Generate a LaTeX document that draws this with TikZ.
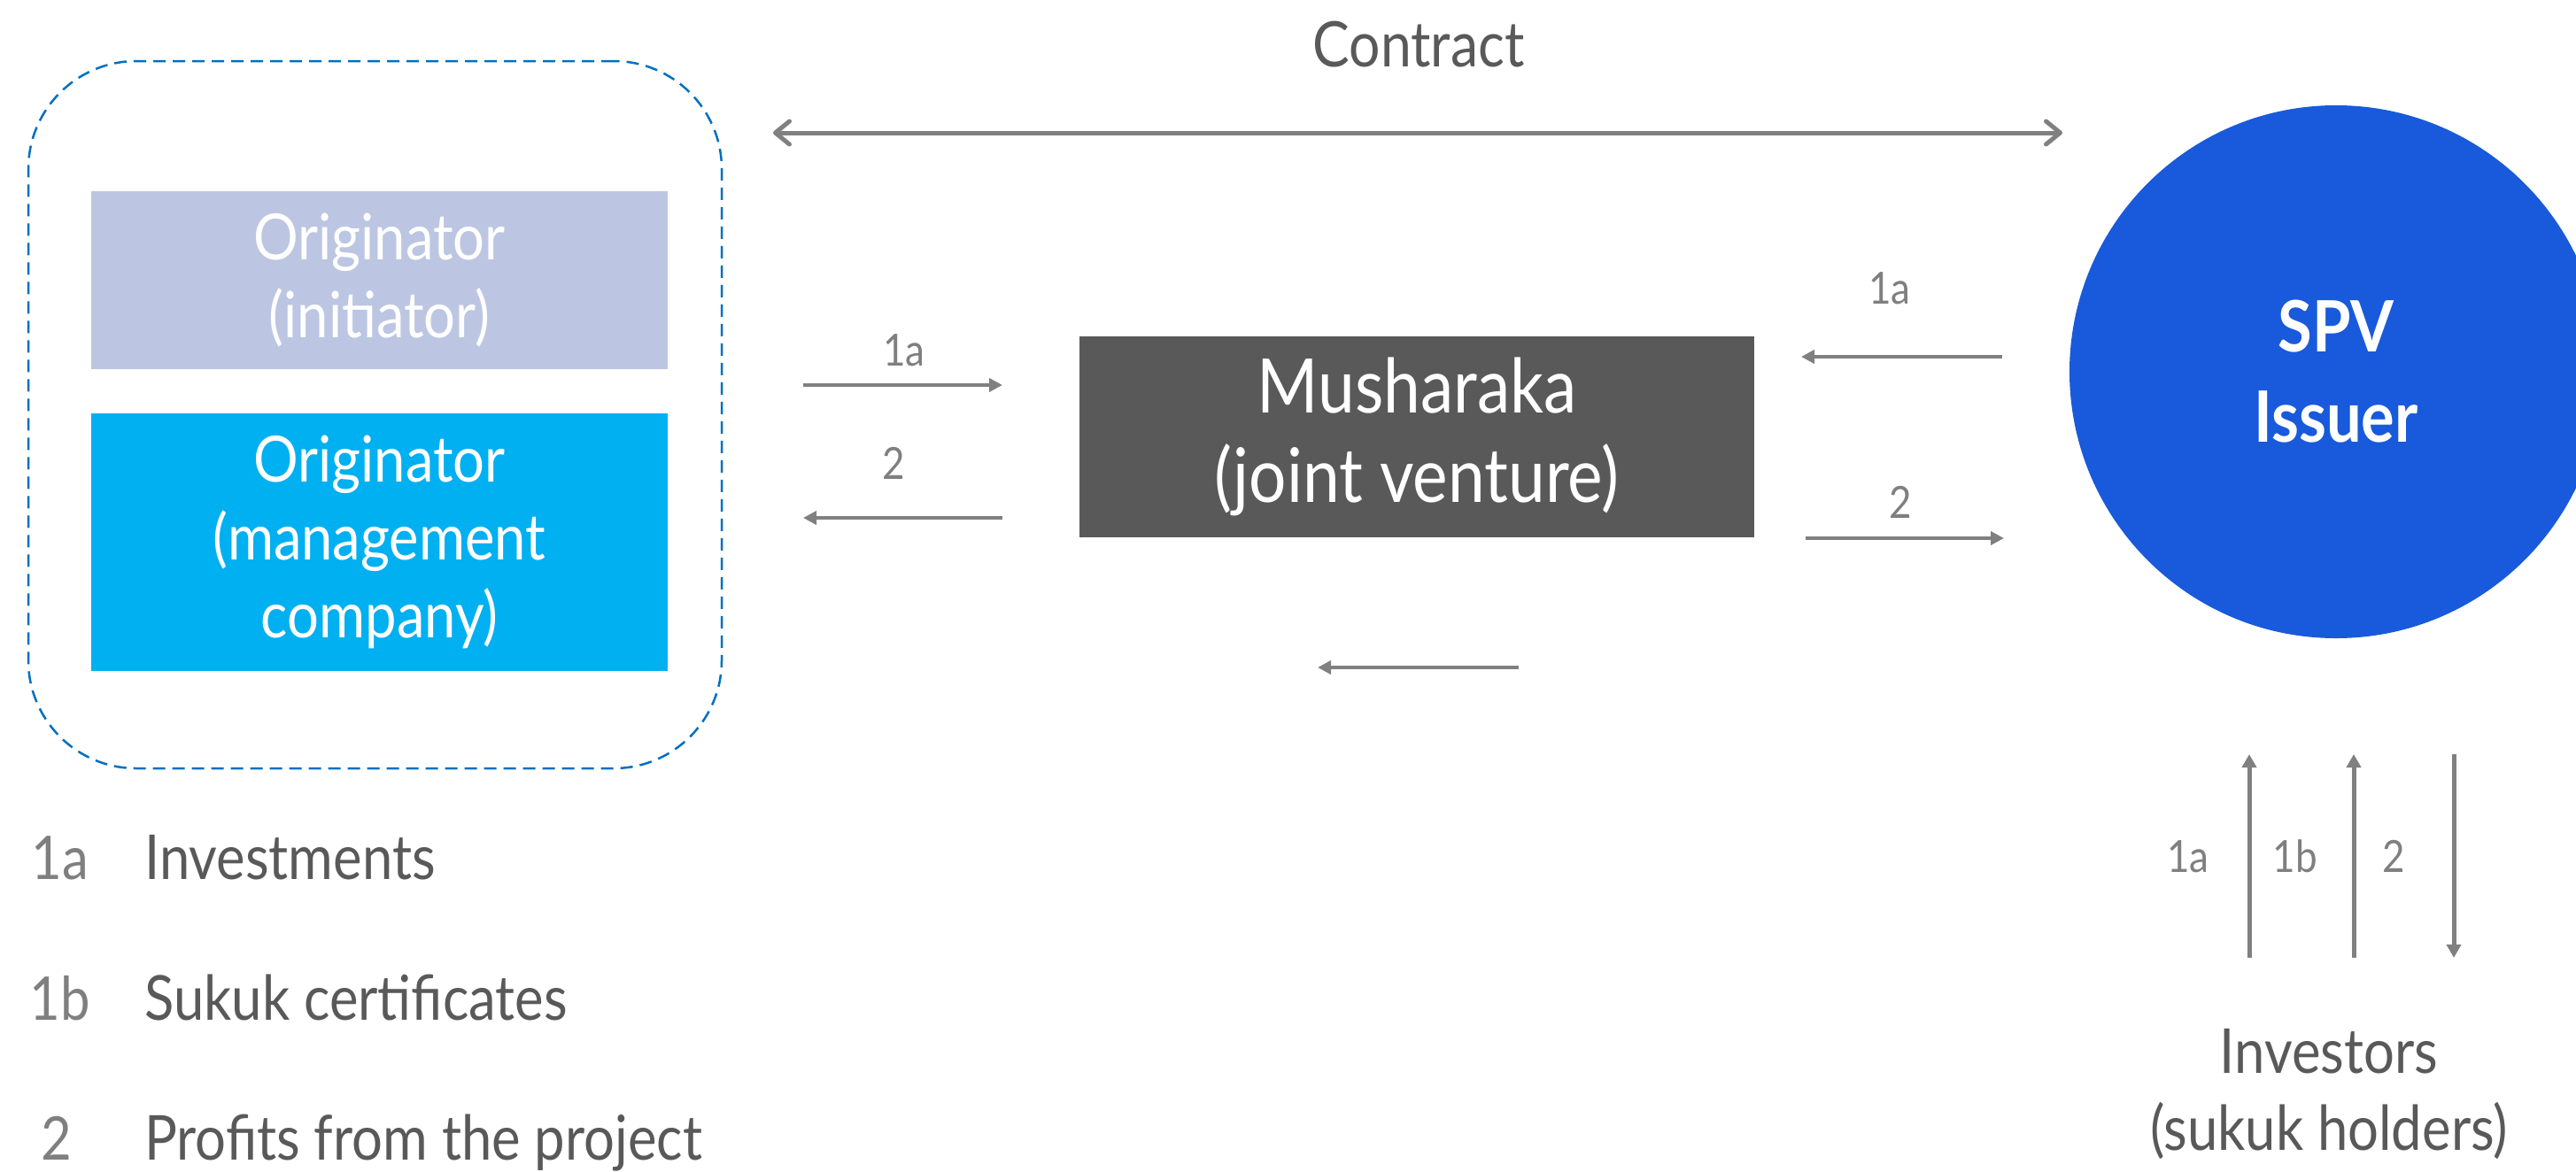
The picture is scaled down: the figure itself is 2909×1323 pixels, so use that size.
\documentclass[tikz,border=0pt]{standalone}
\usepackage{fontspec}
\setmainfont{Lato}[FakeStretch=0.88]
\usetikzlibrary{arrows.meta}

\definecolor{txtdark}{HTML}{595959}
\definecolor{txtlight}{HTML}{7F7F7F}
\definecolor{flowgray}{HTML}{808080}
\definecolor{initfill}{HTML}{BCC6E2}
\definecolor{mgmtfill}{HTML}{00B0F0}
\definecolor{jvfill}{HTML}{595959}
\definecolor{spvfill}{HTML}{185ADB}
\definecolor{groupblue}{HTML}{0070C0}

\newcommand\setfs[2]{\fontsize{#1}{#2}\selectfont}

\tikzset{
  partybox/.style={rectangle, inner sep=0pt, text=white, align=center,
    font=\setfs{72pt}{88pt}},
  flow/.style={draw=flowgray, line width=4pt, -{Triangle[length=15pt,width=15pt]}},
  vflow/.style={draw=flowgray, line width=5pt, -{Triangle[length=15pt,width=16pt]}},
  steplabel/.style={text=txtlight, font=\setfs{50pt}{60pt}, inner sep=0pt, anchor=base},
  legnum/.style={text=txtlight, font=\setfs{68pt}{80pt}, inner sep=0pt, anchor=base},
  legtext/.style={text=txtdark, font=\setfs{70pt}{84pt}, inner sep=0pt, anchor=base west},
}

\begin{document}
\begin{tikzpicture}[x=1pt, y=-1pt]
\useasboundingbox (0,0) rectangle (2909,1323);

% originator group (dashed frame) and its two parties
\node[draw=groupblue, dashed, dash pattern=on 14pt off 8pt, line width=2.5pt,
      rounded corners=122pt, minimum width=783pt, minimum height=799pt]
      (group) at (423.5,468.5) {};
\node[partybox, fill=initfill, minimum width=651pt, minimum height=201pt]
      (init) at (428.5,316.5) {Originator\\(initiator)};
\node[partybox, fill=mgmtfill, minimum width=651pt, minimum height=291pt]
      (mgmt) at (428.5,612.5) {Originator\\(management\\company)};

% joint venture
\node[partybox, fill=jvfill, minimum width=762pt, minimum height=227pt,
      font=\setfs{85pt}{101pt}]
      (jv) at (1600,493.5) {Musharaka\\(joint venture)};

% special purpose vehicle
\node[circle, fill=spvfill, minimum size=602pt, inner sep=0pt] (spv) at (2638,420) {};
\node[text=white, align=center, font=\bfseries\setfs{80pt}{102pt}] (spvtext)
      at (spv.center) {SPV\\Issuer};

% investors
\node[text=txtdark, align=center, font=\setfs{70pt}{87pt}, inner sep=0pt]
      (inv) at (2630,1236) {Investors\\(sukuk holders)};

% contract between originator and SPV
\coordinate (cL) at (873,150);
\coordinate (cR) at (2329,150);
\draw[draw=flowgray, line width=5pt,
      {Straight Barb[round,length=16pt,width=26pt]}-{Straight Barb[round,length=16pt,width=26pt]}]
      (cL) -- (cR);
\node[text=txtdark, font=\setfs{71pt}{84pt}, inner sep=0pt, anchor=base] (contract)
      at (1602,75) {Contract};

% flows between originator and joint venture
\coordinate (oa1) at (907,435);   \coordinate (ja1) at (1132,435);
\coordinate (ja2) at (1132,585);  \coordinate (oa2) at (907,585);
\draw[flow] (oa1) -- (ja1);
\draw[flow] (ja2) -- (oa2);
\node[steplabel] (l1a) at (1021,413) {1a};
\node[steplabel] (l2) at (1009,541) {2};

% flows between SPV and joint venture
\coordinate (sa1) at (2261,403);  \coordinate (jb1) at (2034,403);
\coordinate (jb2) at (2039,608);  \coordinate (sa2) at (2263,608);
\draw[flow] (sa1) -- (jb1);
\draw[flow] (jb2) -- (sa2);
\node[steplabel] (r1a) at (2134,343) {1a};
\node[steplabel] (r2) at (2146,585) {2};

% return flow below the joint venture
\coordinate (bR) at (1715,754);  \coordinate (bL) at (1488,754);
\draw[flow] (bR) -- (bL);

% flows between investors and SPV
\coordinate (v1b) at (2540,1082); \coordinate (v1t) at (2540,852);
\coordinate (v2b) at (2658,1082); \coordinate (v2t) at (2658,852);
\coordinate (v3t) at (2771,852);  \coordinate (v3b) at (2771,1082);
\draw[vflow] (v1b) -- (v1t);
\draw[vflow] (v2b) -- (v2t);
\draw[vflow] (v3t) -- (v3b);
\node[steplabel] (i1a) at (2471,985) {1a};
\node[steplabel] (i1b) at (2592,985) {1b};
\node[steplabel] (i2) at (2703,985) {2};

% legend
\node[legnum] (k1a) at (68,993) {1a};
\node[legtext] (t1a) at (163,993) {Investments};
\node[legnum] (k1b) at (68,1152) {1b};
\node[legtext] (t1b) at (163,1152) {Sukuk certificates};
\node[legnum] (k2) at (64,1310) {2};
\node[legtext] (t2) at (163,1310) {Profits from the project};

\end{tikzpicture}
\end{document}
